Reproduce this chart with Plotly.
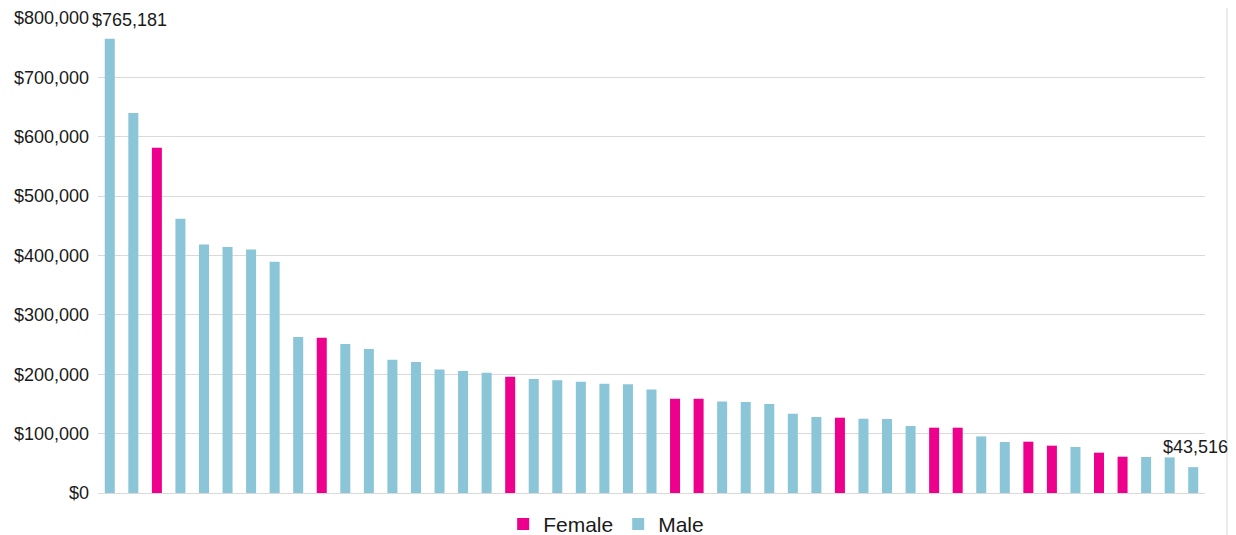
import plotly.graph_objects as go

categories = ["C%d" % i for i in range(1, 48)]
values = [765181, 640000, 581500, 462000, 418700, 414300, 410300, 389500, 262700, 261500,
          250900, 242500, 224500, 220600, 208200, 205400, 202600, 195900, 192000, 189700,
          187500, 184000, 183000, 174500, 158800, 158800, 154300, 153200, 149900, 133500,
          128000, 126800, 125100, 124600, 112800, 110000, 110000, 95300, 85900, 86400,
          79700, 77500, 67900, 61100, 60600, 60000, 43516]
genders = ["M", "M", "F", "M", "M", "M", "M", "M", "M", "F",
           "M", "M", "M", "M", "M", "M", "M", "F", "M", "M",
           "M", "M", "M", "M", "F", "F", "M", "M", "M", "M",
           "M", "F", "M", "M", "M", "F", "F", "M", "M", "F",
           "F", "M", "F", "F", "M", "M", "M"]
tick_vals = [0, 100000, 200000, 300000, 400000, 500000, 600000, 700000, 800000]
tick_text = ["$0", "$100,000", "$200,000", "$300,000", "$400,000", "$500,000",
             "$600,000", "$700,000", "$800,000"]

PINK = "#EC008C"
BLUE = "#8BC5D8"
FONT = "Liberation Sans, Arial, sans-serif"

female = [v if g == "F" else None for v, g in zip(values, genders)]
male = [v if g == "M" else None for v, g in zip(values, genders)]

fig = go.Figure()
fig.add_trace(go.Bar(x=categories, y=female, name="Female", marker_color=PINK,
                     marker_line_width=0))
fig.add_trace(go.Bar(x=categories, y=male, name="Male", marker_color=BLUE,
                     marker_line_width=0))

fig.add_annotation(x=categories[0], y=values[0], text="${:,}".format(values[0]),
                   showarrow=False, xanchor="center", yanchor="bottom", xshift=20, yshift=7,
                   font=dict(size=18, color="#1a1a1a", family=FONT))
fig.add_annotation(x=categories[-1], y=values[-1], text="${:,}".format(values[-1]),
                   showarrow=False, xanchor="center", yanchor="bottom", xshift=2, yshift=8,
                   font=dict(size=18, color="#1a1a1a", family=FONT))

fig.add_shape(type="line", xref="paper", yref="paper", x0=1.0199, x1=1.0199,
              y0=-0.2, y1=1.2, line=dict(color="#d9d9d9", width=1))

fig.update_layout(
    width=1236, height=535,
    margin=dict(l=90, r=39, t=10, b=50, autoexpand=False),
    paper_bgcolor="white", plot_bgcolor="white",
    barmode="overlay", bargap=0.575,
    font=dict(family=FONT, size=18, color="#1a1a1a"),
    showlegend=True,
    legend=dict(orientation="h", x=0.366, xanchor="left", y=-0.066, yanchor="middle",
                font=dict(size=21), itemwidth=30, tracegroupgap=0,
                bgcolor="rgba(0,0,0,0)"),
    xaxis=dict(showticklabels=False, showgrid=False, zeroline=False, showline=False,
               ticks="", range=[-0.5, 46.5], automargin=False),
    yaxis=dict(range=[0, 800000], tickvals=tick_vals, ticktext=tick_text,
               showgrid=True, gridcolor="#d9d9d9", gridwidth=1,
               zeroline=True, zerolinecolor="#d9d9d9", zerolinewidth=1,
               showline=False, ticks="", ticklabelstandoff=8, automargin=False,
               tickfont=dict(size=18, color="#1a1a1a")),
)

fig.write_html("out.html")
